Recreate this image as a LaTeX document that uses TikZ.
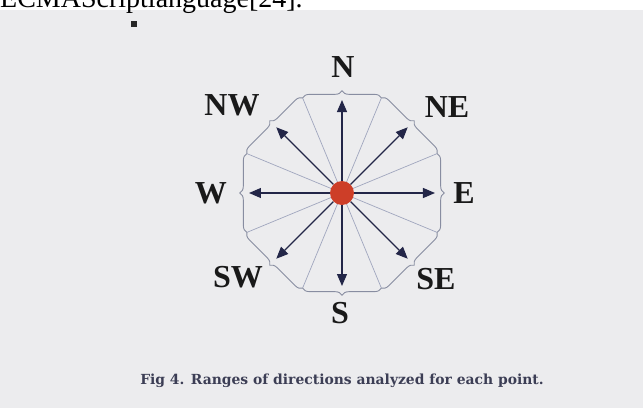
\documentclass[tikz,border=0pt]{standalone}
\usepackage{fontspec}
\setmainfont{Liberation Serif}
\newfontfamily\capfont{DejaVu Serif}
\usepackage{xcolor}
\usetikzlibrary{arrows.meta, positioning, calc, decorations.pathreplacing}
\definecolor{screen}{RGB}{236,236,238}
\definecolor{rayblue}{RGB}{160,166,190}
\definecolor{arrowink}{RGB}{35,38,72}
\definecolor{dotred}{RGB}{205,62,40}
\definecolor{capink}{RGB}{60,62,85}

\begin{document}
\begin{tikzpicture}[x=1pt, y=1pt,
  dirlabel/.style={font=\fontsize{32}{36}\selectfont\bfseries, text=black!90, inner sep=0pt},
  dirarrow/.style={arrowink, line width=1.2pt, -{Triangle[length=12pt,width=10pt]}},
  sector/.style={rayblue, line width=0.7pt},
  rangebrace/.style={rayblue!85!black, line width=0.9pt, decorate, decoration={brace, amplitude=7pt}}]
  \useasboundingbox (-342,193) rectangle (301,-215);
  \fill[white]  (-342,193) rectangle (301,183);
  \fill[screen] (-342,183) rectangle (301,-215);
  \begin{scope}
    \clip (-342,193) rectangle (301,-215);
    \node[anchor=base west, inner sep=0pt, font=\fontsize{28}{30}\selectfont] (prevtext) at (-342,186) {ECMAScriptlanguage[24].};
  \end{scope}
  \node[fill=black!85, minimum size=6pt, inner sep=0pt] (speck) at (-208,169) {};
  \foreach \i in {0,...,7} {
    \coordinate (r\i) at (22.5+45*\i:103);
  }
  \coordinate (c0) at (0,0);
  \foreach \i in {0,...,7} {
    \draw[sector] (c0) -- (r\i);
  }
  \foreach \i/\j in {1/0,2/1,3/2,4/3,5/4,6/5,7/6,0/7} {
    \draw[rangebrace] (r\i) -- (r\j);
  }
  \node[circle, fill=dotred, minimum size=24pt, inner sep=0pt] (c) at (c0) {};
  \foreach \d/\n in {0/E,45/NE,90/N,135/NW,180/W,225/SW,270/S,315/SE} {
    \coordinate (tip\n) at (\d:93);
    \draw[dirarrow] (c) -- (tip\n);
  }
  \foreach \n/\x/\y in {N/1/126,NE/105/86,E/122/0,SE/94/-86,S/-2/-120,SW/-104/-84,W/-131/0,NW/-110/88} {
    \node[dirlabel] (l\n) at (\x,\y) {\n};
  }
  \node[font=\capfont\fontsize{13.9}{16}\selectfont\bfseries, text=capink] (caption) at (0,-188) {Fig 4. Ranges of directions analyzed for each point.};
\end{tikzpicture}
\end{document}
